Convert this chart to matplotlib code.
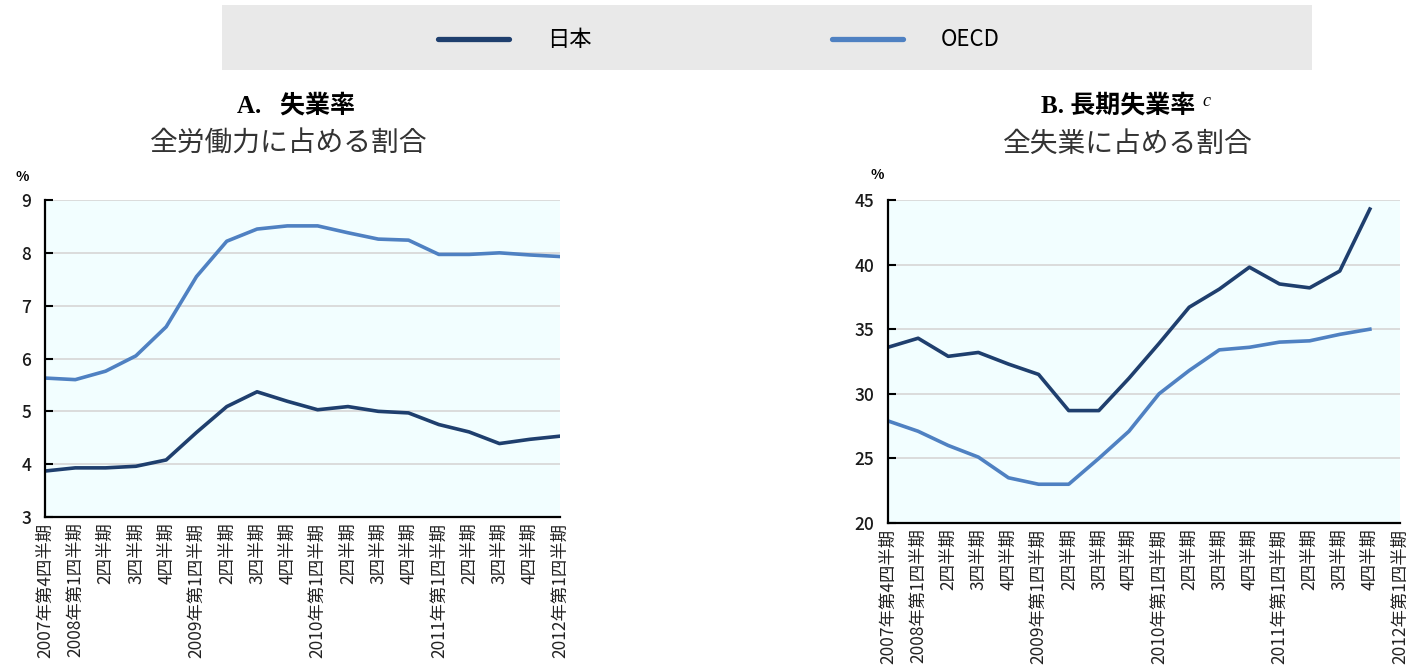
import matplotlib

matplotlib.use("Agg")
import matplotlib.pyplot as plt
from matplotlib.lines import Line2D
from matplotlib.patches import Rectangle

plt.rcParams["font.family"] = ["Noto Sans CJK JP", "DejaVu Sans"]

# quarters 2007Q4 .. 2012Q1
quarter_labels = [
    "2007年第4四半期", "2008年第1四半期", "2四半期", "3四半期", "4四半期",
    "2009年第1四半期", "2四半期", "3四半期", "4四半期",
    "2010年第1四半期", "2四半期", "3四半期", "4四半期",
    "2011年第1四半期", "2四半期", "3四半期", "4四半期",
    "2012年第1四半期",
]

# A. unemployment rate, % of labour force
unemp_japan = [3.87, 3.93, 3.93, 3.96, 4.08, 4.60, 5.09, 5.37, 5.19, 5.03,
               5.09, 5.00, 4.97, 4.75, 4.61, 4.39, 4.47, 4.53]
unemp_oecd = [5.63, 5.60, 5.76, 6.05, 6.60, 7.55, 8.22, 8.45, 8.51, 8.51,
              8.38, 8.26, 8.24, 7.97, 7.97, 8.00, 7.96, 7.93]

# B. long-term unemployment, % of total unemployment (through 2011Q4)
longterm_japan = [33.6, 34.3, 32.9, 33.2, 32.3, 31.5, 28.7, 28.7, 31.2,
                  33.9, 36.7, 38.1, 39.8, 38.5, 38.2, 39.5, 44.3]
longterm_oecd = [27.9, 27.1, 26.0, 25.1, 23.5, 23.0, 23.0, 25.0, 27.1,
                 30.0, 31.8, 33.4, 33.6, 34.0, 34.1, 34.6, 35.0]

JAPAN_COLOR = "#1f3f6e"
OECD_COLOR = "#4f81c2"
PANEL_BG = "#f2feff"
GRID_COLOR = "#d9d9d9"


def _style_axis(ax, ylim, yticks):
    ax.set_facecolor(PANEL_BG)
    ax.set_xlim(0, len(quarter_labels) - 1)
    ax.set_ylim(*ylim)
    ax.set_yticks(yticks)
    ax.set_xticks(range(len(quarter_labels)))
    ax.set_xticklabels(quarter_labels, rotation=90, fontsize=12.5, color="#222222")
    ax.set_xticks([4, 8, 12, 16], minor=True)
    ax.tick_params(axis="x", which="major", length=0, pad=4)
    ax.tick_params(axis="x", which="minor", length=6, width=1.5, direction="in", color="black")
    ax.tick_params(axis="y", length=6, width=1.5, direction="in", labelsize=12.5,
                   labelcolor="#1a1a1a", pad=10)
    for lbl in ax.get_yticklabels():
        lbl.set_fontweight("medium")
    ax.grid(axis="y", color=GRID_COLOR, lw=1.3)
    ax.grid(axis="x", which="minor", color=GRID_COLOR, lw=1.3)
    ax.set_axisbelow(True)
    for side in ("top", "right"):
        ax.spines[side].set_visible(False)
    for side in ("left", "bottom"):
        ax.spines[side].set_linewidth(1.6)
        ax.spines[side].set_color("black")


def main() -> int:
    fig = plt.figure(figsize=(14.18, 6.65), dpi=100)

    # legend band
    fig.patches.append(Rectangle((222 / 1418, 1 - 70 / 665), 1090 / 1418, 65 / 665,
                                 transform=fig.transFigure, facecolor="#e9e9e9",
                                 edgecolor="none", zorder=0))
    handles = [Line2D([], [], color=JAPAN_COLOR, lw=3.8, solid_capstyle="round"),
               Line2D([], [], color=OECD_COLOR, lw=3.8, solid_capstyle="round")]
    fig.legend(handles, ["日本", "OECD"], loc="center", bbox_to_anchor=(0.507, 0.94),
               ncol=2, frameon=False, fontsize=16, handlelength=3.2,
               handletextpad=1.7, columnspacing=10.8)

    ax_a = fig.add_axes([45 / 1418, 1 - 517 / 665, 515 / 1418, 317 / 665])
    x_a = range(len(unemp_japan))
    ax_a.plot(x_a, unemp_oecd, color=OECD_COLOR, lw=2.6)
    ax_a.plot(x_a, unemp_japan, color=JAPAN_COLOR, lw=2.6)
    _style_axis(ax_a, (3, 9), range(3, 10))

    ax_b = fig.add_axes([888 / 1418, 1 - 523 / 665, 512 / 1418, 323 / 665])
    x_b = range(len(longterm_japan))
    ax_b.plot(x_b, longterm_oecd, color=OECD_COLOR, lw=2.6)
    ax_b.plot(x_b, longterm_japan, color=JAPAN_COLOR, lw=2.6)
    _style_axis(ax_b, (20, 45), range(20, 50, 5))

    # panel titles
    title_font = ["Liberation Serif", "Noto Sans CJK JP"]
    fig.text(296 / 1418, 1 - 106 / 665, "A.   失業率", ha="center", va="center",
             fontsize=18, fontweight="bold", family=title_font)
    fig.text(289 / 1418, 1 - 144 / 665, "全労働力に占める割合", ha="center", va="center",
             fontsize=20, color="#333333")
    t_b = fig.text(1118 / 1418, 1 - 106 / 665, "B. 長期失業率", ha="center", va="center",
                   fontsize=18, fontweight="bold", family=title_font)
    fig.text(1128 / 1418, 1 - 144 / 665, "全失業に占める割合", ha="center", va="center",
             fontsize=20, color="#333333")
    ax_b.annotate("c", xy=(1, 1), xycoords=t_b, xytext=(5, 1), textcoords="offset points",
                  ha="left", va="top", fontsize=13, fontstyle="italic",
                  family=["Liberation Serif"], annotation_clip=False)

    fig.text(22 / 1418, 1 - 177 / 665, "%", ha="center", va="center", fontsize=10,
             fontweight="bold")
    fig.text(877 / 1418, 1 - 175 / 665, "%", ha="center", va="center", fontsize=10,
             fontweight="bold")

    fig.savefig("out.png", dpi=100)
    plt.close(fig)
    return 0


if __name__ == "__main__":
    raise SystemExit(main())
